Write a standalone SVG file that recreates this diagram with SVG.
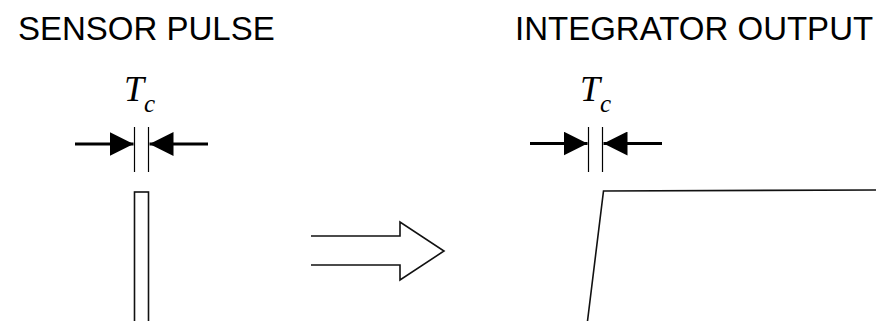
<svg xmlns="http://www.w3.org/2000/svg" width="879" height="321" viewBox="0 0 879 321">
  <style>
    .title { font-family: "Liberation Sans", Arial, sans-serif; font-size: 33px; fill: #000; }
    .sym { font-family: "Liberation Serif", "Times New Roman", serif; font-style: italic; font-size: 36px; fill: #000; }
    .sub { font-size: 25px; }
    .shaft { stroke: #000; stroke-width: 3; fill: none; }
    .tick { stroke: #000; stroke-width: 1.2; fill: none; }
    .trace { stroke: #111; stroke-width: 1.6; fill: none; }
  </style>
  <defs>
    <marker id="head" viewBox="0 0 24 24" refX="24" refY="12" markerWidth="24" markerHeight="24" markerUnits="userSpaceOnUse" orient="auto">
      <path d="M0,0 L24,12 L0,24 Z" fill="#000"/>
    </marker>
  </defs>

  <rect width="879" height="321" fill="#fff"/>

  <!-- left panel: sensor pulse -->
  <g id="sensor-pulse">
    <text class="title" x="18" y="40">SENSOR PULSE</text>
    <text class="sym" x="124" y="101">T<tspan class="sub" dy="11">c</tspan></text>
    <line class="tick" x1="134.5" y1="127" x2="134.5" y2="172"/>
    <line class="tick" x1="148.5" y1="127" x2="148.5" y2="172"/>
    <rect class="trace" x="134.5" y="192" width="14" height="140"/>
  </g>

  <!-- right panel: integrator output -->
  <g id="integrator-output">
    <text class="title" x="515" y="40">INTEGRATOR OUTPUT</text>
    <text class="sym" x="580" y="101">T<tspan class="sub" dy="11">c</tspan></text>
    <line class="tick" x1="588.5" y1="127" x2="588.5" y2="172"/>
    <line class="tick" x1="602.5" y1="127" x2="602.5" y2="172"/>
    <polyline class="trace" points="587.5,321 603.5,191 876,190"/>
  </g>

  <!-- transform arrow between panels -->
  <g id="transform-arrow">
    <path class="trace" d="M311,236 L400,236 L400,222 L444,251 L400,280 L400,265 L311,265" stroke-width="1.4" stroke-linejoin="miter"/>
  </g>

  <!-- width dimension arrows -->
  <g id="connectors">
    <line class="shaft" x1="75" y1="144" x2="133.5" y2="144" marker-end="url(#head)"/>
    <line class="shaft" x1="208" y1="144" x2="149.5" y2="144" marker-end="url(#head)"/>
    <line class="shaft" x1="530" y1="143.5" x2="587.5" y2="143.5" marker-end="url(#head)"/>
    <line class="shaft" x1="662" y1="143.5" x2="603.5" y2="143.5" marker-end="url(#head)"/>
  </g>
</svg>
